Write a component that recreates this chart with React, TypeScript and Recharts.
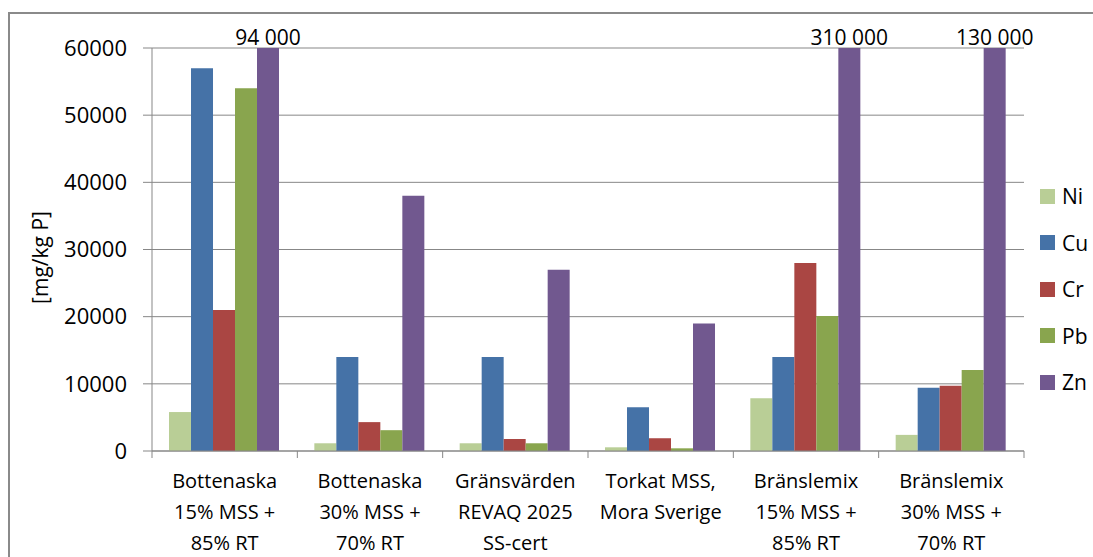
import React from 'react';
import { BarChart, Bar, XAxis, YAxis, CartesianGrid, Legend, LabelList } from 'recharts';

const categoryLines: string[][] = [
  ['Bottenaska', '15% MSS +', '85% RT'],
  ['Bottenaska', '30% MSS +', '70% RT'],
  ['Gränsvärden', 'REVAQ 2025', 'SS-cert'],
  ['Torkat MSS,', 'Mora Sverige'],
  ['Bränslemix', '15% MSS +', '85% RT'],
  ['Bränslemix', '30% MSS +', '70% RT'],
];

const niValues = [5800, 1150, 1150, 550, 7850, 2400];
const cuValues = [57000, 14000, 14000, 6500, 14000, 9400];
const crValues = [21000, 4300, 1800, 1900, 28000, 9700];
const pbValues = [54000, 3100, 1150, 400, 20100, 12050];
const znValues = [94000, 38000, 27000, 19000, 310000, 130000];

const yTicks = [0, 10000, 20000, 30000, 40000, 50000, 60000];
const yMax = 60000;

const seriesNames = ['Ni', 'Cu', 'Cr', 'Pb', 'Zn'];
const seriesColors = ['#B9CE96', '#4572A7', '#AA4643', '#89A54E', '#71588F'];

const data = categoryLines.map((lines, i) => ({
  name: lines.join(' '),
  Ni: niValues[i],
  Cu: cuValues[i],
  Cr: crValues[i],
  Pb: pbValues[i],
  Zn: Math.min(znValues[i], yMax),
  ZnActual: znValues[i],
}));

const FONT = '"Open Sans", sans-serif';
const GRAY = '#878787';

const W = 1093;
const H = 557;
const PLOT_LEFT = 152;
const PLOT_RIGHT = 1024;
const PLOT_TOP = 48;
const PLOT_BOTTOM = 451;
const bandWidth = (PLOT_RIGHT - PLOT_LEFT) / categoryLines.length;

const formatBig = (v: number) => String(v).replace(/\B(?=(\d{3})+(?!\d))/g, ' ');

const XTick = (props: any) => {
  const { x, y, index } = props;
  const lines = categoryLines[index] || [];
  const left = x - bandWidth / 2;
  const right = x + bandWidth / 2;
  return (
    <g>
      <line x1={left} x2={left} y1={y} y2={y + 7} stroke={GRAY} strokeWidth={1} />
      {index === categoryLines.length - 1 && (
        <line x1={right} x2={right} y1={y} y2={y + 7} stroke={GRAY} strokeWidth={1} />
      )}
      {lines.map((l, k) => (
        <text
          key={k}
          x={x}
          y={y + 37 + k * 31}
          textAnchor="middle"
          fontFamily={FONT}
          fontSize={20}
          fill="#000"
        >
          {l}
        </text>
      ))}
    </g>
  );
};

const ZnLabel = (props: any) => {
  const { x, y, width, value } = props;
  if (value <= yMax) return null;
  return (
    <text x={x + width / 2} y={y - 3} textAnchor="middle" fontFamily={FONT} fontSize={21} fill="#000">
      {formatBig(value)}
    </text>
  );
};

const LegendContent = (props: any) => {
  const { payload } = props;
  const items = seriesNames.map((name, i) => {
    const p = (payload || []).find((q: any) => q.value === name);
    return { name, color: p ? p.color : seriesColors[i] };
  });
  return (
    <div style={{ fontFamily: FONT, fontSize: 21, color: '#000' }}>
      {items.map((p, i) => (
        <div key={i} style={{ display: 'flex', alignItems: 'center', height: 46.5 }}>
          <div style={{ width: 15, height: 15, background: p.color, marginRight: 7 }} />
          <span style={{ lineHeight: '24px' }}>{p.name}</span>
        </div>
      ))}
    </div>
  );
};

const YLabel = (props: any) => {
  const { viewBox } = props;
  const cx = 40;
  const cy = viewBox.y + viewBox.height / 2 + 8;
  return (
    <text
      x={cx}
      y={cy}
      transform={`rotate(-90, ${cx}, ${cy})`}
      textAnchor="middle"
      dominantBaseline="central"
      fontFamily={FONT}
      fontSize={21}
      fill="#000"
    >
      [mg/kg P]
    </text>
  );
};

export default function App() {
  return (
    <div style={{ position: 'fixed', left: 0, top: 0, width: W, height: H, overflow: 'hidden', background: '#fff' }}>
      <div
        style={{
          position: 'absolute',
          left: 8,
          top: 12,
          width: W,
          height: H,
          borderLeft: '2px solid #8a8a8a',
          borderTop: '2px solid #8a8a8a',
        }}
      />
      <div style={{ position: 'absolute', left: 0, top: 0 }}>
        <BarChart
          width={W}
          height={H}
          data={data}
          margin={{ top: PLOT_TOP, right: W - PLOT_RIGHT, bottom: 0, left: 0 }}
          barCategoryGap="11.7%"
          barGap={0}
        >
          <CartesianGrid vertical={false} stroke={GRAY} strokeWidth={1} />
          <XAxis
            dataKey="name"
            height={H - PLOT_BOTTOM}
            axisLine={{ stroke: GRAY, strokeWidth: 1 }}
            tickLine={false}
            tickSize={0}
            tickMargin={0}
            interval={0}
            tick={<XTick />}
          />
          <YAxis
            width={PLOT_LEFT}
            domain={[0, yMax]}
            ticks={yTicks}
            allowDataOverflow
            axisLine={{ stroke: GRAY, strokeWidth: 1 }}
            tickLine={{ stroke: GRAY, strokeWidth: 1 }}
            tickSize={9}
            tickMargin={16}
            tick={{ fontFamily: FONT, fontSize: 22, fill: '#000' }}
            label={<YLabel />}
          />
          <Legend
            layout="vertical"
            align="center"
            verticalAlign="middle"
            content={<LegendContent />}
            wrapperStyle={{ left: 1040, top: 173, width: 60, height: 240 }}
          />
          {seriesNames.map((s, i) => (
            <Bar key={s} dataKey={s} name={s} fill={seriesColors[i]} isAnimationActive={false}>
              {s === 'Zn' && <LabelList dataKey="ZnActual" content={<ZnLabel />} />}
            </Bar>
          ))}
        </BarChart>
      </div>
    </div>
  );
}
